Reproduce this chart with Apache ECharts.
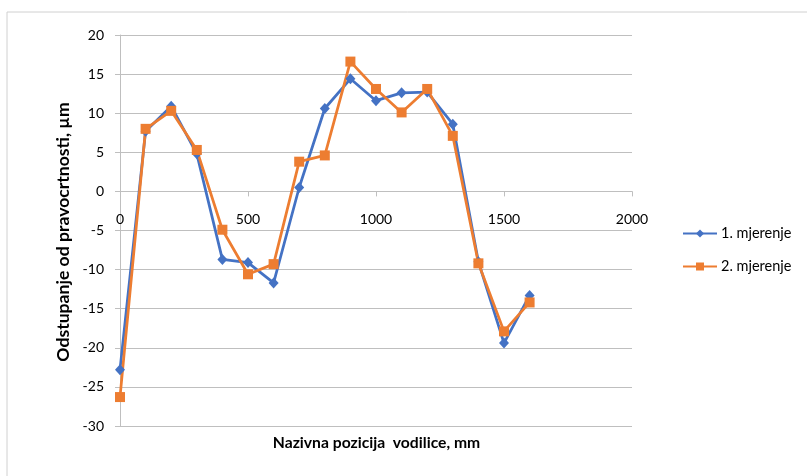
<!DOCTYPE html>
<html>
<head>
<meta charset="utf-8">
<script src="https://cdn.jsdelivr.net/npm/echarts@6/dist/echarts.min.js"></script>
<style>html,body{margin:0;padding:0;background:#fff}#c{width:807px;height:476px}</style>
</head>
<body>
<div id="c"></div>
<script>
var positions = [0,100,200,300,400,500,600,700,800,900,1000,1100,1200,1300,1400,1500,1600];
var mjerenje1 = [-22.8,7.7,10.9,4.8,-8.7,-9.1,-11.7,0.5,10.6,14.4,11.6,12.6,12.7,8.6,-9.0,-19.4,-13.3];
var mjerenje2 = [-26.3,8.0,10.3,5.3,-4.9,-10.6,-9.3,3.8,4.6,16.6,13.1,10.1,13.1,7.1,-9.2,-17.9,-14.2];
var seriesNames = ['1. mjerenje','2. mjerenje'];
var xTitle = 'Nazivna pozicija  vodilice, mm';
var yTitle = 'Odstupanje od pravocrtnosti, µm';
var xMin = 0, xMax = 2000, xStep = 500;
var yMin = -30, yMax = 20, yStep = 5;

function pairs(xs, ys){ return xs.map(function(x,i){ return [x, ys[i]]; }); }
var font = 'Lato, "Open Sans", sans-serif';
var grey = '#BFBFBF';

function fitSize(text, target){
  var c = document.createElement('canvas').getContext('2d');
  c.font = 'bold 100px ' + font;
  var w = c.measureText(text).width;
  return Math.round(100 * target / w * 10) / 10;
}
var xTitleSize = fitSize(xTitle, 207);
var yTitleSize = fitSize(yTitle, 260);

var W = 807, H = 476, gL = 120, gR = 175, gT = 35, gB = 50;
var plotH = H - gT - gB;
var zeroOffset = plotH * yMax / (yMax - yMin);

var chart = echarts.init(document.getElementById('c'), null, {renderer:'canvas'});
chart.setOption({
  animation:false,
  backgroundColor:'#fff',
  grid:[
    {left:gL,right:gR,top:gT,bottom:gB,containLabel:false},
    {left:gL,right:gR,top:gT,height:zeroOffset,containLabel:false}
  ],
  graphic:[
    {type:'rect',shape:{x:7,y:12,width:900,height:600},style:{fill:'none',stroke:'#D0D0D0',lineWidth:1},silent:true},
    {type:'text',x:376.5,y:443,style:{text:xTitle,font:'bold '+xTitleSize+'px '+font,fill:'#000',align:'center',verticalAlign:'middle',textAlign:'center',textVerticalAlign:'middle'}},
    {type:'text',x:63,y:232,rotation:Math.PI/2,style:{text:yTitle,font:'bold '+yTitleSize+'px '+font,fill:'#000',align:'center',verticalAlign:'middle',textAlign:'center',textVerticalAlign:'middle'}}
  ],
  legend:{
    orient:'vertical',left:677,top:221,itemWidth:34,itemHeight:10,itemGap:18,
    textStyle:{fontFamily:font,fontSize:14.5,color:'#000',padding:[0,0,0,-1]},
    data:seriesNames
  },
  xAxis:[
    {gridIndex:0,type:'value',min:xMin,max:xMax,interval:xStep,show:true,
     axisLine:{show:false},axisTick:{show:false},axisLabel:{show:false},splitLine:{show:false}},
    {gridIndex:1,type:'value',min:xMin,max:xMax,interval:xStep,position:'bottom',
     axisLine:{show:true,onZero:false,lineStyle:{color:grey,width:1}},
     axisTick:{show:true,length:5,lineStyle:{color:grey}},
     axisLabel:{margin:21,fontFamily:font,fontSize:14,color:'#000',formatter:function(v){return String(v);}},
     splitLine:{show:false}}
  ],
  yAxis:[
    {gridIndex:0,type:'value',min:yMin,max:yMax,interval:yStep,
     axisLine:{show:true,onZero:false,lineStyle:{color:grey,width:1}},
     axisTick:{show:true,length:5,lineStyle:{color:grey}},
     axisLabel:{margin:16,fontFamily:font,fontSize:14,color:'#000',formatter:function(v){return String(v);}},
     splitLine:{show:true,lineStyle:{color:grey,width:1}}},
    {gridIndex:1,type:'value',min:0,max:yMax,show:false}
  ],
  series:[
    {name:seriesNames[0],type:'line',xAxisIndex:0,yAxisIndex:0,data:pairs(positions,mjerenje1),symbol:'diamond',symbolSize:[10,11],
     lineStyle:{color:'#4472C4',width:2.75},itemStyle:{color:'#4472C4'}},
    {name:seriesNames[1],type:'line',xAxisIndex:0,yAxisIndex:0,data:pairs(positions,mjerenje2),symbol:'rect',symbolSize:10,
     lineStyle:{color:'#ED7D31',width:2.75},itemStyle:{color:'#ED7D31'}}
  ]
});
</script>
</body>
</html>
